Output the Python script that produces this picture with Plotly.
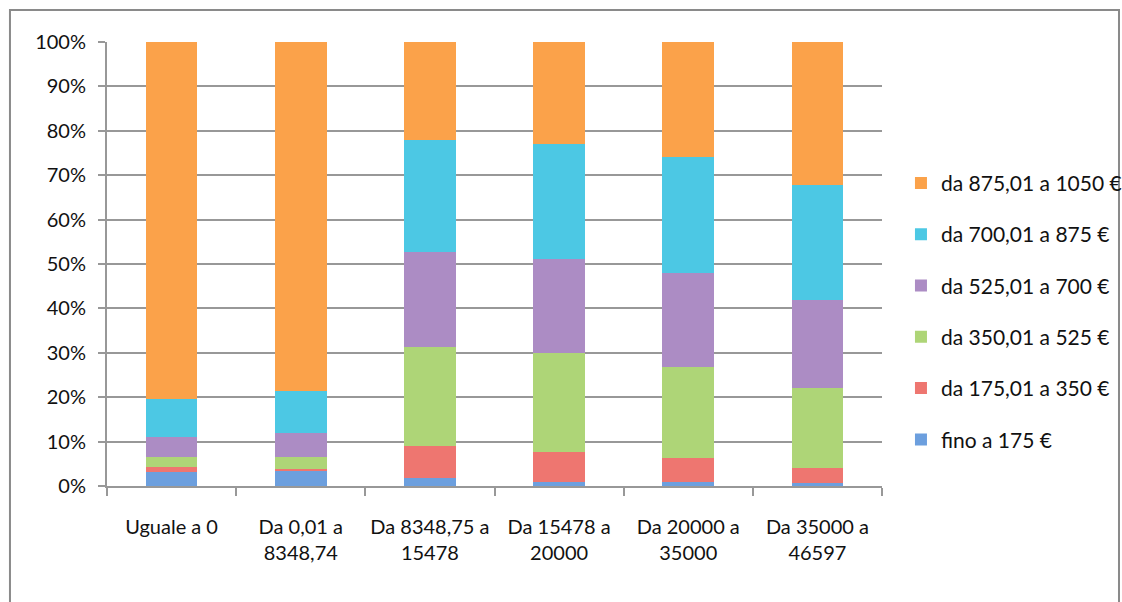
import plotly.graph_objects as go

# Income brackets (x categories)
categories = [
    "Uguale a 0",
    "Da 0,01 a<br>8348,74",
    "Da 8348,75 a<br>15478",
    "Da 15478 a<br>20000",
    "Da 20000 a<br>35000",
    "Da 35000 a<br>46597",
]

# Share (%) of each amount band within every income bracket
fino_175 = [3.2, 3.4, 1.7, 1.0, 0.8, 0.6]
da_175_350 = [1.0, 0.5, 7.3, 6.7, 5.4, 3.5]
da_350_525 = [2.4, 2.7, 22.2, 22.2, 20.5, 18.0]
da_525_700 = [4.4, 5.3, 21.4, 21.3, 21.2, 19.9]
da_700_875 = [8.6, 9.6, 25.3, 25.8, 26.3, 25.8]
da_875_1050 = [80.4, 78.5, 22.1, 23.0, 25.8, 32.2]

series = [
    ("fino a 175 €", fino_175, "#6C9FDE"),
    ("da 175,01 a 350 €", da_175_350, "#EE7670"),
    ("da 350,01 a 525 €", da_350_525, "#AED577"),
    ("da 525,01 a 700 €", da_525_700, "#AC8CC4"),
    ("da 700,01 a 875 €", da_700_875, "#4CC8E4"),
    ("da 875,01 a 1050 €", da_875_1050, "#FBA24A"),
]

FONT = "Lato"
TEXT = "#111111"

fig = go.Figure()
for i, (name, values, color) in enumerate(series):
    fig.add_trace(go.Bar(
        x=categories,
        y=values,
        name=name,
        legendgroup=name,
        legendrank=len(series) - i,
        marker=dict(color=color, line=dict(width=0)),
    ))

fig.update_layout(
    barmode="stack",
    bargap=0.6,
    width=1122,
    height=602,
    margin=dict(l=107, r=240, t=42, b=116),
    paper_bgcolor="white",
    plot_bgcolor="white",
    font=dict(family=FONT, size=20, color=TEXT),
    legend=dict(
        xref="container",
        yref="container",
        x=0.803,
        xanchor="left",
        y=0.483,
        yanchor="middle",
        traceorder="grouped",
        tracegroupgap=21,
        font=dict(family=FONT, size=21, color=TEXT),
        itemwidth=30,
        bgcolor="rgba(0,0,0,0)",
    ),
    showlegend=True,
)

fig.update_yaxes(
    range=[0, 100],
    dtick=10,
    ticksuffix="%",
    showgrid=True,
    gridcolor="#989898",
    gridwidth=2,
    showline=True,
    linecolor="#989898",
    linewidth=2,
    ticks="outside",
    ticklen=7,
    tickwidth=2,
    tickcolor="#989898",
    ticklabelstandoff=8,
    zeroline=False,
    fixedrange=True,
)

fig.update_xaxes(
    showgrid=False,
    showline=True,
    linecolor="#989898",
    linewidth=2,
    ticks="outside",
    tickson="boundaries",
    ticklen=8,
    tickwidth=2,
    tickcolor="#989898",
    ticklabelstandoff=22,
    tickangle=0,
)

# Outer chart frame
fig.add_shape(
    type="rect",
    xref="paper", yref="paper",
    x0=-0.1252, x1=1.3058, y0=-0.268, y1=1.072,
    line=dict(color="#8a8a8a", width=2),
    layer="below",
)

fig.write_html("out.html")
